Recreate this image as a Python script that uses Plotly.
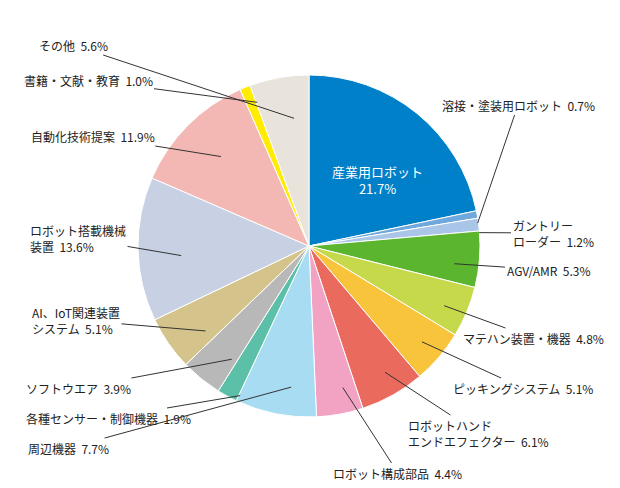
import math
import plotly.graph_objects as go

labels = ["産業用ロボット","溶接・塗装用ロボット","ガントリー<br>ローダー","AGV/AMR","マテハン装置・機器",
          "ピッキングシステム","ロボットハンド<br>エンドエフェクター","ロボット構成部品","周辺機器",
          "各種センサー・制御機器","ソフトウエア","AI、IoT関連装置<br>システム","ロボット搭載機械<br>装置",
          "自動化技術提案","書籍・文献・教育","その他"]
values = [21.7,0.7,1.2,5.3,4.8,5.1,6.1,4.4,7.7,1.9,3.9,5.1,13.6,11.9,1.0,5.6]
colors = ["#0080c8","#6fa8dc","#a9c6e8","#5bb52e","#c5d94a","#f8c43c","#ea6a5e","#f2a3c4","#a8dcf2",
          "#5cc0a8","#b8b8b8","#d4c48c","#c8d0e4","#f4b8b4","#ffec00","#e8e4dc"]
label_px = [None,(510,97),(545,225),(540,262),(525,330),(515,380),(470,425),(390,465),(60,440),
            (100,410),(70,380),(68,312),(70,230),(85,128),(80,72),(65,37)]
W,H = 620,488
cx,cy,R = 310,245,171
ox,oy = -9,-7  # rendering offset correction

fig = go.Figure(go.Pie(values=values, labels=labels, marker=dict(colors=colors, line=dict(color="white", width=1)),
                       sort=False, direction="clockwise", rotation=0, textinfo="none", hoverinfo="label+percent",
                       domain=dict(x=[(cx+ox-R)/W,(cx+ox+R)/W], y=[(H-cy-oy-R)/H,(H-cy-oy+R)/H])))
ann = []
total = sum(values)
acc = 0
for i,(lab,v) in enumerate(zip(labels,values)):
    mid = (acc + v/2)/total*2*math.pi
    acc += v
    if label_px[i] is None:
        px, py = cx + 0.55*R*math.sin(mid), cy - 0.55*R*math.cos(mid)
        ann.append(dict(x=px/W, y=1-py/H, xref="paper", yref="paper", showarrow=False,
                        text=f"{lab}<br>{v}%", font=dict(color="white", size=13, family="Noto Sans CJK JP")))
        continue
    txt = f"{lab}  {v}%"
    r = 0.8 if v > 3 else 0.95
    px, py = cx + r*R*math.sin(mid), cy - r*R*math.cos(mid)
    lx, ly = label_px[i]
    ann.append(dict(x=px/W, y=1-py/H, xref="paper", yref="paper", ax=lx-px, ay=ly-py,
                    showarrow=True, arrowhead=0, arrowwidth=1, arrowcolor="#333",
                    text=txt, align="left", font=dict(color="#222", size=12, family="Noto Sans CJK JP")))
fig.update_layout(width=W, height=H, margin=dict(l=0,r=0,t=0,b=0), showlegend=False,
                  paper_bgcolor="white", annotations=ann)
fig.write_html("out.html")
